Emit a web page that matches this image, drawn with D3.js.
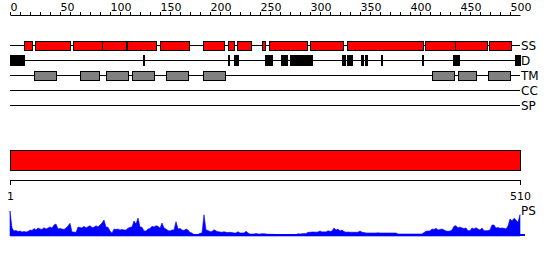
<!DOCTYPE html>
<html>
<head>
<meta charset="utf-8">
<script src="https://cdn.jsdelivr.net/npm/d3@7"></script>
<style>
  html, body { margin: 0; padding: 0; background: #fff; }
  svg { display: block; font-family: "DejaVu Sans", sans-serif; }
</style>
</head>
<body>
<svg id="chart" width="550" height="260"></svg>
<script>
// ---- data ----
const seqLength = 510;
const topTicks = d3.range(0, 501, 10);
const topTickLabels = [0, 50, 100, 150, 200, 250, 300, 350, 400, 450, 500];
const bottomTicks = [1, 510];
const trackNames = ["SS", "D", "TM", "CC", "SP"];

const ssSegments = [[14,22],[25,60],[63,92],[92,116],[117,146],[150,179],[193,214],[218,224],
  [227,241],[252,255],[259,297],[300,333],[337,413],[415,445],[445,477],[479,501]];
const dSegments = [[0,14],[133,134],[218,219],[224,228],[255,262],[271,277],[280,302],[332,335],
  [337,342],[351,353],[355,357],[371,372],[412,413],[443,449],[505,510]];
const tmSegments = [[24,46],[70,89],[96,118],[122,144],[156,178],[193,215],[422,444],[448,466],[478,500]];
const ccSegments = [];
const spSegments = [];
const fullBar = [1, 510];

// PS profile, one value every 2 residues (positions 0,2,...,510)
const psValues = [
  25, 8, 5, 5.5, 4.5, 5, 4, 4.5, 4, 4.5,
  6, 5.5, 7.5, 6, 8, 7, 6.5, 8.3, 7, 8,
  9, 8, 11, 12, 7, 7.5, 7, 6.5, 8, 10,
  12.7, 4, 4, 3.5, 9, 8.5, 8, 9.7, 8, 9.3,
  10.3, 8.5, 8.7, 10.3, 9, 11, 13, 16, 9, 8.7,
  5, 2.7, 7, 6.5, 7, 6, 6.5, 6, 6, 7.7,
  8.7, 9, 15, 12, 18, 9, 8.7, 5, 5, 7,
  7.5, 9.7, 9, 10.3, 9.7, 7.7, 13, 8, 7, 5.5,
  5, 6, 6, 14.3, 7, 7.5, 6, 5.5, 7, 6,
  3.5, 3, 1.3, 1.3, 1.5, 2.7, 3, 21.3, 6, 5.5,
  4.3, 4.5, 6.3, 5, 4.3, 4, 3.7, 4.3, 3.7, 3.5,
  3.7, 3.5, 3, 3, 4.3, 3, 3, 3, 4.7, 3,
  2, 2, 2, 2.5, 2, 2, 2.3, 2.3, 2, 1.7,
  1.7, 1.7, 1.7, 1, 1, 1, 1, 1, 1, 1,
  1, 1, 1, 1, 2.3, 2, 2.3, 2.5, 2.3, 3.7,
  3.7, 4, 4, 3.8, 4, 5, 4, 4.2, 4, 5.3,
  4.5, 5, 8, 6, 7, 5, 6, 4.5, 3.7, 4,
  3.7, 3.8, 3.7, 3.7, 3.8, 5, 3.7, 3.5, 3, 3,
  3, 3, 3, 3, 3.2, 3, 3, 3, 3, 3,
  3, 3, 3, 3, 2, 2, 2, 2, 2, 2,
  2, 2, 2, 2, 2, 2, 2, 3.5, 4.7, 5,
  5, 7, 6.5, 7.7, 6, 6.5, 7, 6, 5, 4.7,
  5, 6, 9.7, 10.3, 8, 9, 8, 7.5, 8, 5.3,
  5.3, 8, 7, 8.3, 7, 6, 8, 5.3, 5.3, 5.5,
  6, 11, 11, 8, 8.5, 7.7, 8, 7.7, 7, 10,
  17, 15, 17.7, 16, 13.7, 21.3
];
const psPositions = psValues.map((v, i) => i * 2);

// ---- drawing ----
const svg = d3.select("#chart");
svg.append("rect").attr("width", 550).attr("height", 260).attr("fill", "#fff");

const xTop = d3.scaleLinear().domain([0, seqLength]).range([10, 520]);
const xBottom = d3.scaleLinear().domain([1, seqLength]).range([10, 520]);

// top axis
const topAxis = d3.axisTop(xTop)
  .tickValues(topTicks)
  .tickSize(3)
  .tickSizeOuter(0)
  .tickFormat(d => topTickLabels.includes(d) ? d : "");
const gTop = svg.append("g").attr("transform", "translate(0,15)").call(topAxis);
gTop.select(".domain").attr("stroke", "#000");
gTop.selectAll(".tick line").attr("stroke", "#000");
gTop.selectAll(".tick text")
  .attr("text-anchor", "start")
  .attr("x", 0)
  .attr("y", -4.5)
  .attr("dy", 0)
  .attr("fill", "#000")
  .style("font-size", "11px")
  .style("font-family", "DejaVu Sans");

// tracks
const trackY = d3.scalePoint().domain(trackNames).range([45, 105]);
const trackG = svg.append("g").attr("shape-rendering", "crispEdges");
trackNames.forEach(name => {
  const y = trackY(name);
  trackG.append("line")
    .attr("x1", xTop(0)).attr("x2", xTop(seqLength))
    .attr("y1", y + 0.5).attr("y2", y + 0.5)
    .attr("stroke", "#000").attr("stroke-width", 1);
  svg.append("text")
    .attr("x", xTop(seqLength) + 1)
    .attr("y", y + 5)
    .attr("fill", "#000")
    .style("font-size", "12px")
    .text(name);
});

function drawBoxes(segs, track, fill, h) {
  const yc = trackY(track);
  trackG.selectAll(null).data(segs).enter().append("rect")
    .attr("x", d => Math.round(xTop(d[0])) + 0.5)
    .attr("width", d => Math.max(1, Math.round(xTop(d[1])) - Math.round(xTop(d[0]))))
    .attr("y", yc - h / 2 + 0.5)
    .attr("height", h)
    .attr("fill", fill)
    .attr("stroke", "#000")
    .attr("stroke-width", 1);
}
drawBoxes(ssSegments, "SS", "#ff0000", 9);
drawBoxes(dSegments, "D", "#000000", 10);
drawBoxes(tmSegments, "TM", "#808080", 9);
drawBoxes(ccSegments, "CC", "#808080", 9);
drawBoxes(spSegments, "SP", "#808080", 9);

// full-length bar
svg.append("rect")
  .attr("shape-rendering", "crispEdges")
  .attr("x", Math.round(xBottom(fullBar[0])) + 0.5)
  .attr("width", Math.round(xBottom(fullBar[1])) - Math.round(xBottom(fullBar[0])))
  .attr("y", 150.5).attr("height", 20)
  .attr("fill", "#ff0000").attr("stroke", "#000").attr("stroke-width", 1);

// bottom axis
const bottomAxis = d3.axisBottom(xBottom)
  .tickValues(bottomTicks)
  .tickSize(5)
  .tickSizeOuter(0)
  .tickPadding(7)
  .tickFormat(d3.format("d"));
const gBot = svg.append("g").attr("transform", "translate(0,180)").call(bottomAxis);
gBot.select(".domain").attr("stroke", "#000");
gBot.selectAll(".tick line").attr("stroke", "#000");
gBot.selectAll(".tick text")
  .attr("fill", "#000")
  .style("font-size", "11px")
  .style("font-family", "DejaVu Sans");

// PS profile
const yPS = d3.scaleLinear().domain([0, 26]).range([236, 210]);
const area = d3.area()
  .x((d, i) => xTop(psPositions[i]))
  .y0(yPS(0))
  .y1(d => yPS(d));
svg.append("path")
  .datum(psValues)
  .attr("d", area)
  .attr("fill", "#0000ff")
  .attr("stroke", "#0000ff")
  .attr("stroke-width", 0.6);
svg.append("line")
  .attr("x1", xTop(0)).attr("x2", xTop(seqLength) + 5)
  .attr("y1", yPS(0) - 1).attr("y2", yPS(0) - 1)
  .attr("stroke", "#0000ff").attr("stroke-width", 2);
svg.append("text")
  .attr("x", xTop(seqLength) + 1)
  .attr("y", 215)
  .attr("fill", "#000")
  .style("font-size", "12px")
  .text("PS");
</script>
</body>
</html>
